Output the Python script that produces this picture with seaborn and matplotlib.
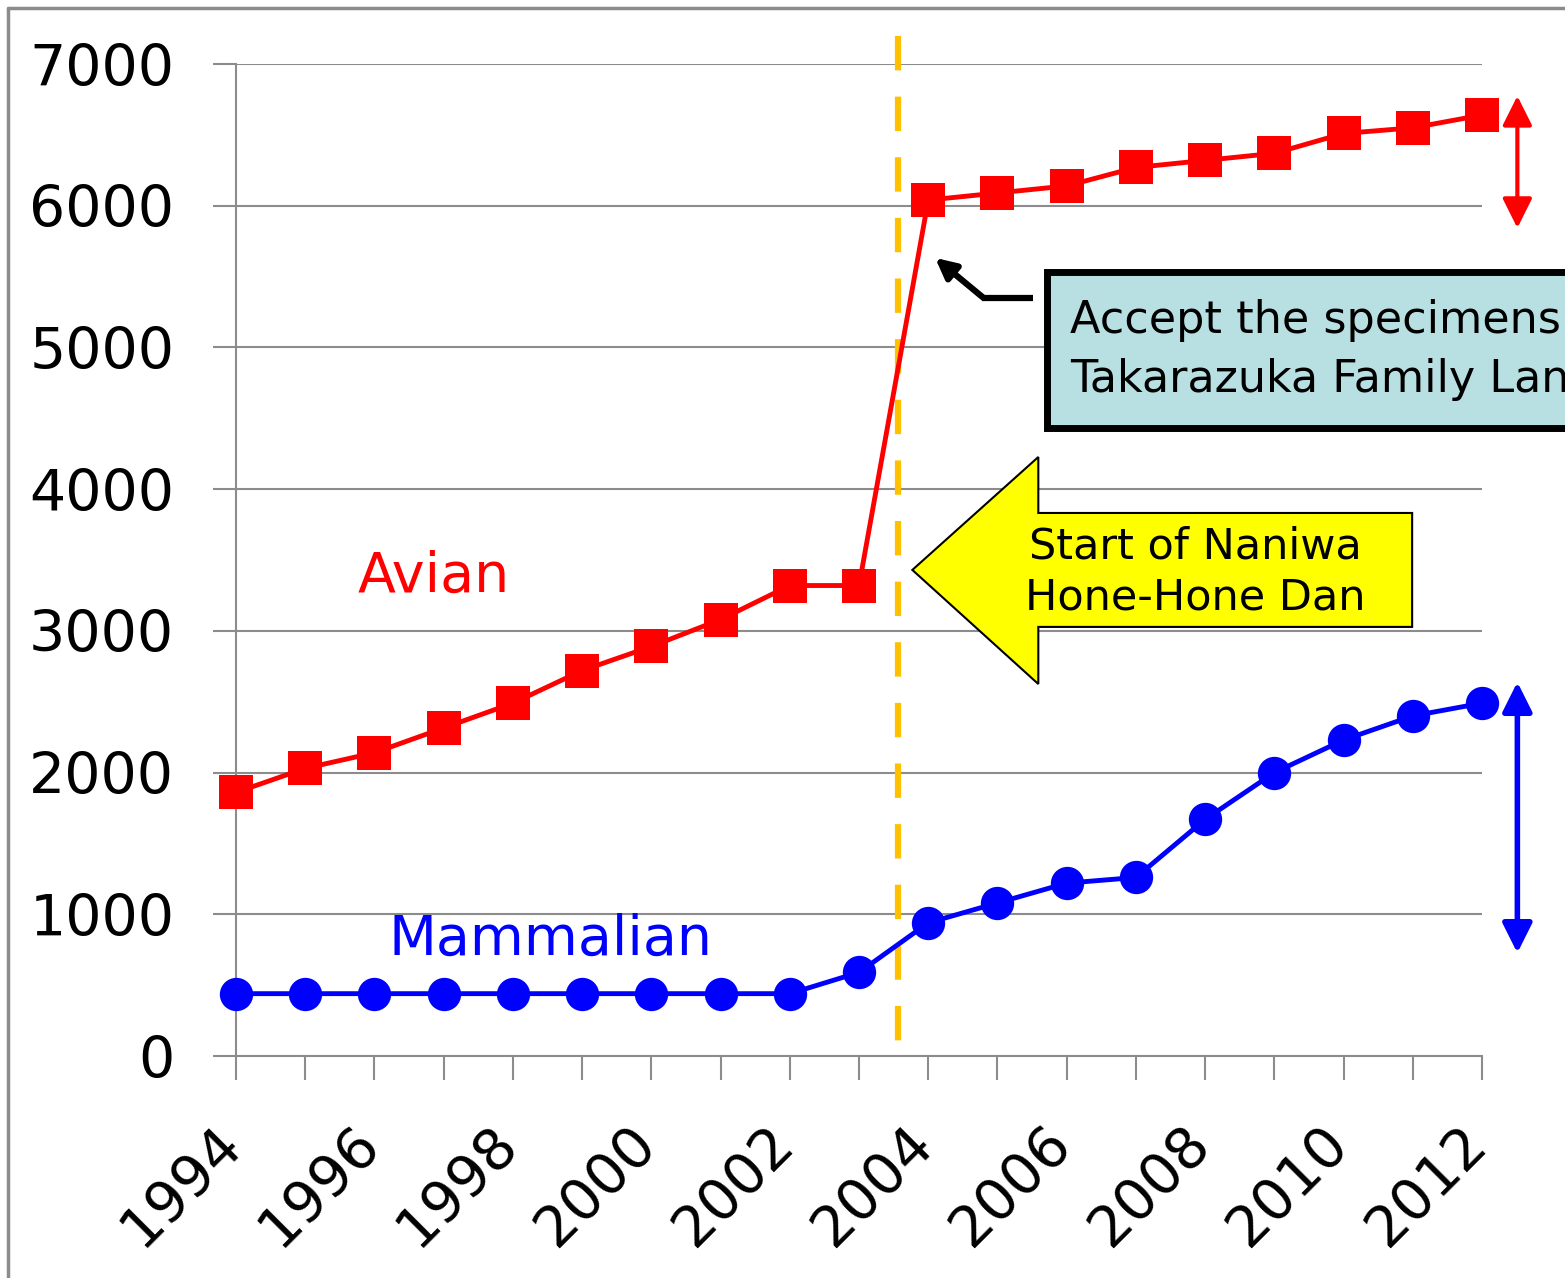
import matplotlib
matplotlib.use("Agg")
import matplotlib.pyplot as plt
import seaborn as sns
import numpy as np
import pandas as pd
from matplotlib.patches import Polygon, Rectangle
from matplotlib.transforms import ScaledTranslation
from matplotlib.lines import Line2D

# Data
years = list(range(1994, 2013))
avian = [1860, 2030, 2140, 2315, 2490, 2720, 2890, 3080, 3320, 3320,
         6040, 6090, 6140, 6270, 6320, 6370, 6510, 6550, 6640]
mammalian = [440, 440, 440, 440, 440, 440, 440, 440, 440, 590,
             940, 1080, 1220, 1260, 1670, 2000, 2230, 2400, 2490]
year_labels = [str(y) if y % 2 == 0 else "" for y in years]
y_ticks = [0, 1000, 2000, 3000, 4000, 5000, 6000, 7000]

df = pd.DataFrame({"Year": years, "Avian": avian, "Mammalian": mammalian})

sns.set_style("white")
plt.rcParams["font.family"] = ["DejaVu Sans"]
plt.rcParams["text.color"] = "black"
plt.rcParams["xtick.labelcolor"] = "black"
plt.rcParams["ytick.labelcolor"] = "black"

fig = plt.figure(figsize=(15.65, 12.78), dpi=100)
ax = fig.add_axes([0.1508, 0.1737, 0.7962, 0.7762])

grid_col = "#8c8c8c"
sns.lineplot(data=df, x="Year", y="Avian", ax=ax, color="#ff0000", linewidth=3.5,
             marker="s", markersize=24, markeredgewidth=0, zorder=5)
sns.lineplot(data=df, x="Year", y="Mammalian", ax=ax, color="#0000ff", linewidth=3.5,
             marker="o", markersize=24, markeredgewidth=0, zorder=5)
for ln in ax.lines:
    ln.set_clip_on(False)

ax.set_xlim(1994, 2012)
ax.set_ylim(0, 7000)
ax.set_yticks(y_ticks)
ax.set_yticklabels([str(v) for v in y_ticks])
ax.set_xticks(years)
ax.set_xticklabels(year_labels)
ax.set_xlabel("")
ax.set_ylabel("")

ax.yaxis.grid(True, color=grid_col, linewidth=1.5)
ax.set_axisbelow(True)
for s in ["top", "right"]:
    ax.spines[s].set_visible(False)
for s in ["left", "bottom"]:
    ax.spines[s].set_color(grid_col)
    ax.spines[s].set_linewidth(1.5)

ax.tick_params(axis="y", direction="out", length=16.5, width=1.5, color=grid_col,
               pad=28, labelsize=41, labelcolor="black", left=True)
ax.tick_params(axis="x", direction="out", length=17, width=1.5, color=grid_col,
               pad=40, labelsize=41, labelcolor="black", bottom=True)
for lab in ax.get_xticklabels():
    lab.set_rotation(45)
    lab.set_ha("right")
    lab.set_va("center")
    lab.set_rotation_mode("anchor")
    lab.set_transform(lab.get_transform() + ScaledTranslation(-0.03, 0, fig.dpi_scale_trans))

# dashed vertical line (drawn top to bottom)
ax.plot([2003.57, 2003.57], [7200, -30], color="#ffc000", linewidth=4.5,
        dashes=(5.5, 4.2), clip_on=False, zorder=3)

# series labels
ax.text(1995.76, 3274, "Avian", color="#ff0000", fontsize=40, ha="left", va="baseline")
ax.text(1996.2, 713, "Mammalian", color="#0000ff", fontsize=40, ha="left", va="baseline")

# double arrows on right
ax.annotate("", xy=(2012.51, 6775), xytext=(2012.51, 5843),
            arrowprops=dict(arrowstyle="<|-|>", color="#ff0000", lw=3, mutation_scale=45,
                            shrinkA=0, shrinkB=0), annotation_clip=False)
ax.annotate("", xy=(2012.51, 2639), xytext=(2012.51, 727),
            arrowprops=dict(arrowstyle="<|-|>", color="#0000ff", lw=4, mutation_scale=45,
                            shrinkA=0, shrinkB=0), annotation_clip=False)

# yellow block arrow
arrow_pts = [(2003.77, 3430), (2005.59, 4227), (2005.59, 3832), (2010.99, 3832),
             (2010.99, 3028), (2005.59, 3028), (2005.59, 2625)]
ax.add_patch(Polygon(arrow_pts, closed=True, facecolor="#ffff00", edgecolor="black",
                     linewidth=1.5, clip_on=False, zorder=6))
ax.text(2007.86, 3416, "Start of Naniwa\nHone-Hone Dan", fontsize=31,
        ha="center", va="center", linespacing=1.25, color="black", zorder=7)

# annotation box
ax.add_patch(Rectangle((2005.72, 4432), 8, 1101, facecolor="#b8dfe2", edgecolor="black",
                       linewidth=5, clip_on=False, zorder=6))
ax.text(2006.05, 5102, "Accept the specimens from", fontsize=32, color="black",
        ha="left", va="baseline", zorder=7, clip_on=False)
ax.text(2006.05, 4686, "Takarazuka Family Land", fontsize=32, color="black",
        ha="left", va="baseline", zorder=7, clip_on=False)

# black pointer arrow
ax.plot([2005.52, 2004.78], [5349, 5349], color="black", linewidth=4.5,
        clip_on=False, zorder=6, solid_capstyle="butt")
ax.annotate("", xy=(2004.10, 5632), xytext=(2004.80, 5349),
            arrowprops=dict(arrowstyle="-|>", color="black", lw=4.5, mutation_scale=30,
                            shrinkA=0, shrinkB=0), annotation_clip=False)

# outer frame (partially visible)
fig.add_artist(Line2D([8 / 1565, 8 / 1565], [0, 1 - 8 / 1278], color="#8c8c8c", linewidth=2.5))
fig.add_artist(Line2D([8 / 1565, 1], [1 - 8 / 1278, 1 - 8 / 1278], color="#8c8c8c", linewidth=2.5))

fig.savefig("out.png", dpi=100)
